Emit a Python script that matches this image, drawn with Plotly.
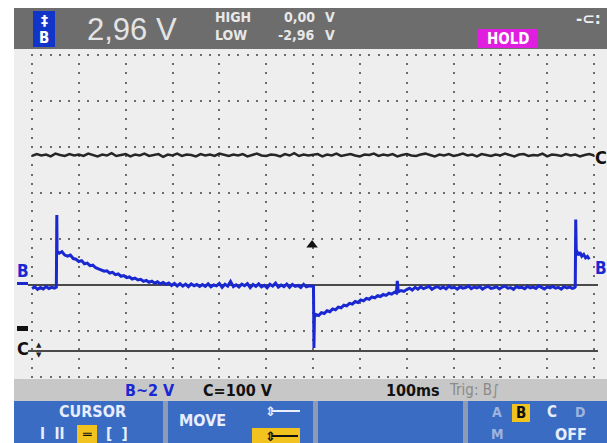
import plotly.graph_objects as go

# Channel B (volts, 2 V/div), time in ms (100 ms/div)
b_time = [0, 6, 12, 18, 24, 30, 36, 42, 48, 52,
          53, 53.5,
          58, 64, 70, 76, 82, 88, 94, 100, 106, 112, 118, 124, 130, 136, 142, 148,
          154, 160, 166, 172, 178, 184, 190, 196, 202, 208, 214, 220, 226, 232,
          238, 244, 250, 256, 262, 268, 274, 280, 286, 292, 298, 304, 310, 316,
          322, 328, 334, 340, 346, 352, 358,
          364, 370, 376, 382, 388, 394, 400, 406, 412, 418, 424, 430, 436, 442,
          448, 454, 460, 466, 472, 478, 484, 490, 496, 502, 508, 514, 520, 526,
          532, 538, 544, 550, 556, 562, 568, 574, 580, 586, 592, 598,
          601, 602, 603,
          606, 612, 618, 624, 630, 636, 642, 648, 654, 660, 666, 672, 678, 684,
          690, 696, 702, 708, 714, 720, 726, 732, 738, 744, 750, 756, 762, 768,
          774, 778, 780, 782, 788, 794, 800,
          806, 812, 818, 824, 830, 836, 842, 848, 854, 860, 866, 872, 878, 884,
          890, 896, 902, 908, 914, 920, 926, 932, 938, 944, 950, 956, 962, 968,
          974, 980, 986, 992, 998, 1004, 1010, 1016, 1022, 1028, 1034, 1040,
          1046, 1052, 1058, 1064, 1070, 1076, 1082, 1088, 1094, 1100, 1106,
          1112, 1118, 1124, 1130, 1136, 1142, 1148, 1154,
          1158, 1160, 1161, 1162, 1166, 1170, 1174, 1178, 1182, 1186, 1190]
b_volts = [-0.15, -0.08, -0.19, -0.11, -0.17, -0.07, -0.15, -0.10, -0.14, -0.09,
           3.04, 1.45,
           1.38, 1.45, 1.30, 1.25, 1.30, 1.15, 1.12, 1.02, 1.06, 0.92, 0.95, 0.84,
           0.86, 0.75, 0.70, 0.66, 0.60, 0.62, 0.52, 0.55, 0.45, 0.48, 0.38, 0.41,
           0.32, 0.35, 0.26, 0.30, 0.22, 0.25, 0.16, 0.20, 0.12, 0.17, 0.08, 0.14,
           0.05, 0.11, 0.03, 0.09, -0.02, 0.07, -0.04, 0.06, -0.05, 0.04, -0.07,
           0.05, -0.03, 0.02, -0.06,
           0.02, -0.06, 0.05, -0.08, 0.00, -0.04, 0.07, -0.10, 0.03, -0.05,
           0.15, -0.07, 0.01, -0.09, 0.04, -0.03, 0.06, -0.11, 0.02, -0.06,
           0.05, -0.08, -0.01, -0.12, 0.03, -0.05, 0.08, -0.09, 0.00, -0.07,
           0.04, -0.10, 0.02, -0.06, -0.02, -0.11, 0.03, -0.08, -0.04, -0.06,
           -0.05, -2.74, -1.40,
           -1.28, -1.33, -1.20, -1.24, -1.12, -1.16, -1.04, -1.08, -0.96, -0.99,
           -0.88, -0.91, -0.80, -0.83, -0.72, -0.76, -0.65, -0.69, -0.58, -0.62,
           -0.52, -0.56, -0.46, -0.50, -0.41, -0.45, -0.36, -0.40, -0.31, -0.35,
           0.18, -0.30, -0.24, -0.28, -0.20,
           -0.14, -0.22, -0.10, -0.18, -0.08, -0.16, -0.12, -0.06, -0.19, -0.11,
           -0.07, -0.15, -0.09, -0.17, -0.05, -0.13, -0.10, -0.18, -0.08, -0.14,
           -0.11, -0.04, -0.16, -0.09, -0.13, -0.07, -0.18, -0.10, -0.06, -0.15,
           -0.12, -0.08, -0.17, -0.09, -0.05, -0.14, -0.11, -0.19, -0.07, -0.12,
           -0.10, -0.16, -0.06, -0.13, -0.09, -0.15, -0.04, -0.11, -0.17, -0.08,
           -0.12, -0.06, -0.14, -0.10, -0.18, -0.07, -0.13, -0.09, -0.15,
           -0.12, -0.08, 2.85, 1.55, 1.30, 1.42, 1.25, 1.33, 1.18, 1.24, 1.12]

# Channel C (volts, 100 V/div), sampled every 10 ms
c_time = list(range(0, 1201, 10))
c_volts = [424, 428, 425, 427, 423, 429, 426, 424, 428, 425,
           427, 424, 429, 426, 423, 427, 425, 430, 424, 426,
           428, 423, 427, 425, 429, 424, 426, 428, 422, 427,
           425, 429, 424, 427, 426, 423, 428, 425, 427, 424,
           429, 426, 424, 427, 425, 428, 423, 426, 429, 425,
           424, 427, 426, 423, 428, 425, 430, 424, 427, 425,
           426, 428, 423, 427, 425, 429, 424, 426, 428, 425,
           423, 427, 426, 429, 424, 427, 425, 428, 423, 426,
           428, 425, 424, 427, 429, 426, 423, 427, 425, 428,
           424, 426, 429, 425, 427, 423, 428, 426, 424, 427,
           425, 429, 426, 423, 427, 428, 424, 426, 425, 429,
           423, 427, 426, 424, 428, 425, 427, 423, 426, 428,
           425]

trigger_time = [598]
trigger_level = [1.74]

# ---------------- figure ----------------
W, H = 607, 443
L, R, T, B = 28, 598, 51, 381   # plot area in pixels (grid 32..594 x 55..377)
MS_PER_PX = 1200 / 562
B_V_PER_PX = 2 / 46
C_V_PER_PX = 100 / 46


def PX(x):
    return (x - L) / (R - L)


def PY(y):
    return (B - y) / (B - T)


SANS = "Liberation Sans, Arial, sans-serif"
BOLD = "DejaVu Sans Condensed, Liberation Sans Narrow, Liberation Sans, sans-serif"

fig = go.Figure()
fig.add_trace(go.Scatter(x=c_time, y=c_volts, yaxis="y2", mode="lines",
                         line=dict(color="#262626", width=2.5), hoverinfo="skip",
                         showlegend=False))
fig.add_trace(go.Scatter(x=b_time, y=b_volts, mode="lines",
                         line=dict(color="#1a28d2", width=3), hoverinfo="skip",
                         showlegend=False))
fig.add_trace(go.Scatter(x=trigger_time, y=trigger_level, mode="markers",
                         marker=dict(symbol="triangle-up", size=10, color="#111111"),
                         hoverinfo="skip", showlegend=False))

shapes = []


def rect(x0, y0, x1, y1, color, layer="below"):
    shapes.append(dict(type="rect", xref="paper", yref="paper",
                       x0=PX(x0), x1=PX(x1), y0=PY(y1), y1=PY(y0),
                       fillcolor=color, line=dict(width=0), layer=layer))


def hline(x0, x1, y, color, width):
    shapes.append(dict(type="line", xref="paper", yref="paper",
                       x0=PX(x0), x1=PX(x1), y0=PY(y), y1=PY(y),
                       line=dict(color=color, width=width), layer="above"))


# screen pieces (header / strip / menu drawn above so the plot area cannot cover them)
rect(14, 49, 607, 379, "#eeeeee")          # grid background
rect(14, 8, 607, 49, "#6d6d6d", "above")   # header
rect(14, 379, 607, 401, "#c7c7c7", "above")  # status strip
rect(14, 401, 607, 443, "#3a6cc4", "above")  # soft-key menu
rect(163, 401, 168, 443, "#8e9bb3", "above")
rect(313, 401, 318, 443, "#8e9bb3", "above")
rect(463, 401, 468, 443, "#8e9bb3", "above")
rect(33, 11, 55, 47, "#1235c9", "above")   # B input box
rect(478, 29, 538, 48, "#e01ee0", "above")  # HOLD
rect(17, 282, 28, 285, "#1a28d2", "above")  # B marker dash
rect(17, 326, 28, 331, "#111111", "above")  # C marker dash
rect(77, 425, 97, 443, "#f2c21e", "above")  # cursor selection
rect(252, 428, 300, 443, "#f2c21e", "above")  # move selection
rect(512, 404, 530, 422, "#f2c21e", "above")  # B selection
hline(272, 300, 411, "#e8eeff", 2)
hline(272, 298, 436, "#111111", 2)

annotations = []


def ann(x, y, text, size, color, bold=True, anchor="center", family=BOLD):
    if bold:
        text = "<b>" + text + "</b>"
    annotations.append(dict(xref="paper", yref="paper", x=PX(x), y=PY(y),
                            text=text, showarrow=False, xanchor=anchor,
                            yanchor="middle",
                            font=dict(size=size, color=color, family=family)))


# header
ann(44, 20, "‡", 14, "#ffffff", True, family="DejaVu Sans")
ann(44, 38, "B", 15, "#ffffff")
ann(85, 30, "2,96 V", 31, "#e4e4e4", False, "left", family=SANS)
ann(213, 17, "HIGH", 14, "#e8e8e8", True, "left")
ann(213, 35, "LOW", 14, "#e8e8e8", True, "left")
ann(317, 17, "0,00", 14, "#e8e8e8", True, "right")
ann(317, 35, "-2,96", 14, "#e8e8e8", True, "right")
ann(323, 17, "V", 14, "#e8e8e8", True, "left")
ann(323, 35, "V", 14, "#e8e8e8", True, "left")
ann(508, 39, "HOLD", 15, "#ffffff")
ann(588, 19, "-⊂:", 15, "#f0f0f0", True, family="DejaVu Sans")

# screen labels
ann(23, 271, "B", 17, "#1a28d2")
ann(23, 348, "C", 18, "#111111")
ann(39, 345, "▲", 7, "#222222", False, family="DejaVu Sans")
ann(39, 355, "▼", 7, "#222222", False, family="DejaVu Sans")
ann(601, 157, "C", 18, "#111111")
ann(601, 268, "B", 17, "#1a28d2")

# status strip
ann(150, 390, "B~2 V", 16, "#1a28d2")
ann(238, 390, "C=100 V", 16, "#111111")
ann(413, 390, "100ms", 16, "#111111")
ann(447, 390, "Trig: B∫", 15, "#8a8a8a", False, "left")

# soft keys
ann(92, 411, "CURSOR", 16, "#e8eeff")
ann(38, 434, "I  II", 15, "#e8eeff", True, "left")
ann(87, 434, "═", 14, "#111111", True, family="DejaVu Sans")
ann(104, 434, "[  ]", 15, "#e8eeff", True, "left")
ann(202, 420, "MOVE", 16, "#e8eeff")
ann(270, 411, "⇕", 13, "#e8eeff", True, family="DejaVu Sans")
ann(270, 436, "⇕", 13, "#111111", True, family="DejaVu Sans")
ann(497, 412, "A", 14, "#9fb4dc")
ann(521, 413, "B", 15, "#111111")
ann(552, 412, "C", 15, "#e8eeff")
ann(580, 412, "D", 14, "#9fb4dc")
ann(497, 434, "M", 14, "#9fb4dc")
ann(571, 434, "OFF", 16, "#e8eeff")

# axis ranges: grid (0..1200 ms, -4..10 V) sits inside the plot area
x_lo = -(32 - L) * MS_PER_PX
x_hi = 1200 + (R - 594) * MS_PER_PX
y_lo = -4 - (B - 377) * B_V_PER_PX
y_hi = 10 + (55 - T) * B_V_PER_PX
c_lo = -(B - 351) * C_V_PER_PX
c_hi = (351 - T) * C_V_PER_PX

fig.update_layout(
    width=W, height=H,
    margin=dict(l=L, r=W - R, t=T, b=H - B, pad=0),
    paper_bgcolor="#ffffff",
    plot_bgcolor="#eeeeee",
    showlegend=False,
    shapes=shapes,
    annotations=annotations,
    xaxis=dict(range=[x_lo, x_hi], tick0=0, dtick=100, showticklabels=False,
               ticks="", showgrid=True, gridcolor="#6c6c6c", gridwidth=2,
               griddash="0px,3px,2px,4.2px", zeroline=False, showline=False,
               fixedrange=True),
    yaxis=dict(range=[y_lo, y_hi], tick0=0, dtick=2, showticklabels=False,
               ticks="", showgrid=True, gridcolor="#6c6c6c", gridwidth=2,
               griddash="0px,3px,2px,4.37px", zeroline=True,
               zerolinecolor="#4a4a4a", zerolinewidth=2, showline=False,
               fixedrange=True),
    yaxis2=dict(range=[c_lo, c_hi], overlaying="y", showticklabels=False,
                ticks="", showgrid=False, zeroline=True,
                zerolinecolor="#4a4a4a", zerolinewidth=2, showline=False,
                fixedrange=True),
)

fig.write_html("out.html")
